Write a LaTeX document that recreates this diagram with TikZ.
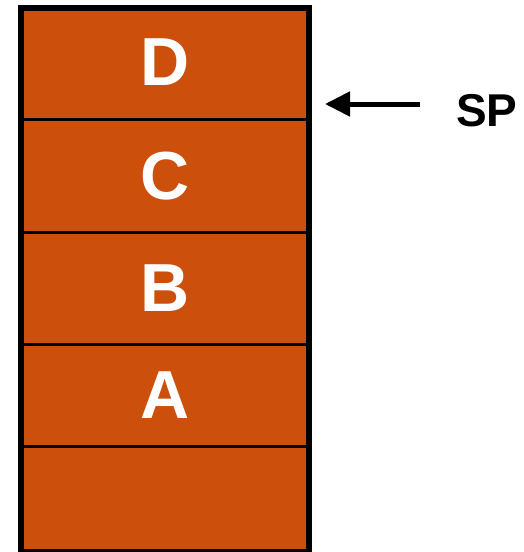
\documentclass[tikz,border=0pt]{standalone}
\usepackage{fontspec}
\setmainfont{Liberation Sans}
\usetikzlibrary{arrows.meta, positioning}
\definecolor{stackorange}{RGB}{204,79,12}
\tikzset{
    cell/.style={draw=black, line width=3pt, fill=stackorange, text=white,
        minimum width=288pt, inner sep=0pt, outer sep=0pt,
        font=\fontsize{68}{68}\selectfont\bfseries},
    pointer/.style={line width=5pt, -{Triangle[length=25pt,width=24pt]}},
    splabel/.style={font=\fontsize{46}{46}\selectfont\bfseries, inner sep=0pt}
}
\begin{document}
\begin{tikzpicture}[x=1pt,y=-1pt]
    \useasboundingbox (0,0) rectangle (523,552);
    % the stack, top to bottom
    \node[cell, minimum height=111.5pt] (d) at (165,63.75) {\raisebox{4pt}{D}};
    \node[cell, minimum height=112.5pt] (c) at (165,175.75) {C};
    \node[cell, minimum height=112pt] (b) at (165,288) {B};
    \node[cell, minimum height=102.5pt] (a) at (165,395.25) {A};
    \node[cell, minimum height=105.5pt] (e) at (165,499.25) {};
    \draw[line width=6pt] (d.north west) rectangle (e.south east);
    % stack pointer
    \node[splabel, anchor=west] (sp) at (456,110.5) {SP};
    \coordinate (from) at (420,104);
    \draw[pointer, shorten >=16pt] (from) -- (d.east |- from);
\end{tikzpicture}
\end{document}
